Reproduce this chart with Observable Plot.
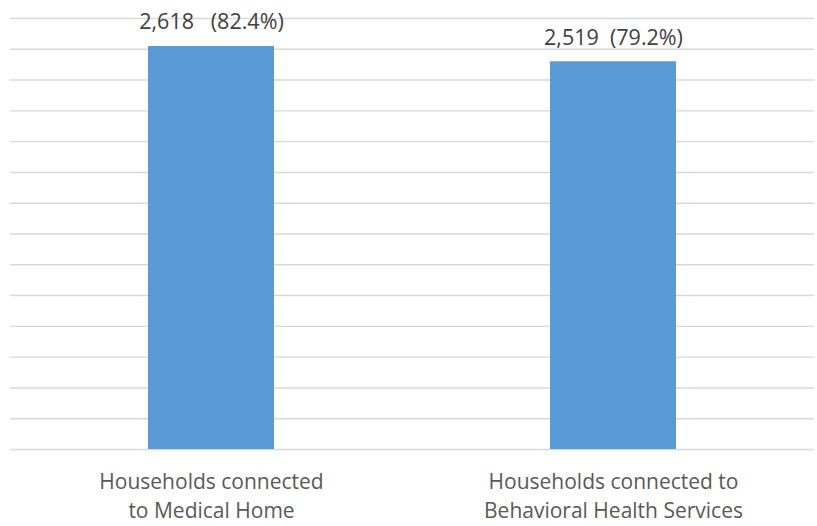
<!DOCTYPE html>
<html>
<head>
<meta charset="utf-8">
<script src="https://cdn.jsdelivr.net/npm/d3@7"></script>
<script src="https://cdn.jsdelivr.net/npm/@observablehq/plot@0.6"></script>
<style>
  html, body { margin: 0; padding: 0; background: #fff; }
  svg text { white-space: pre; }
</style>
</head>
<body>
<div id="chart"></div>
<script>
const categories = ["Households connected\nto Medical Home", "Households connected to\nBehavioral Health Services"];
const counts = [2618, 2519];
const percents = ["82.4%", "79.2%"];
const labelGaps = ["   ", "  "];
const yTicks = d3.range(0, 2801, 200);

const data = categories.map((c, i) => ({
  category: c,
  count: counts[i],
  label: d3.format(",")(counts[i]) + labelGaps[i] + "(" + percents[i] + ")"
}));

const chart = Plot.plot({
  width: 817,
  height: 526,
  marginLeft: 10,
  marginRight: 3,
  marginTop: 18,
  marginBottom: 77,
  style: { fontFamily: "'Open Sans', sans-serif", background: "#fff" },
  x: { domain: categories, paddingInner: 0.687, paddingOuter: 0.3435, align: 0.5, axis: null, label: null },
  y: { domain: [0, 2800], axis: null },
  marks: [
    Plot.gridY(yTicks, { stroke: "#d9d9d9", strokeOpacity: 1, strokeWidth: 1.4 }),
    Plot.barY(data, { x: "category", y: "count", fill: "#5b9bd5" }),
    Plot.text(data, {
      x: "category", y: "count", text: "label",
      dy: -24, lineAnchor: "middle", fontSize: 21.5, fill: "#404040"
    }),
    Plot.axisX({
      tickSize: 0, tickPadding: 19, fontSize: 21, lineHeight: 1.38,
      fill: "#595959", tickFormat: d => d, label: null
    })
  ]
});
document.getElementById("chart").appendChild(chart);
</script>
</body>
</html>
